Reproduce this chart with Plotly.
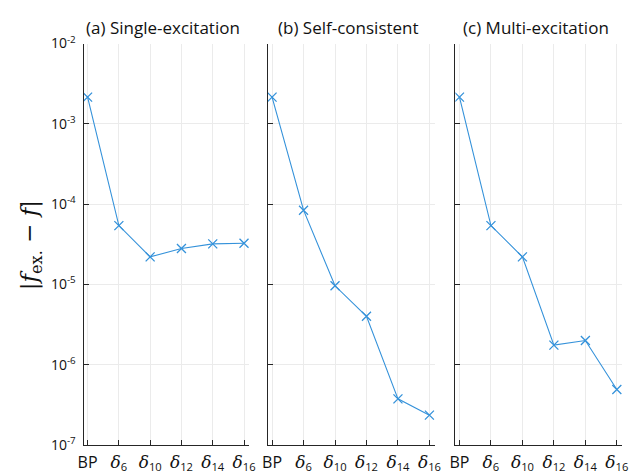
import plotly.graph_objects as go

categories = ["BP", "δ6", "δ10", "δ12", "δ14", "δ16"]
D = "<span style='font-family:DejaVu Serif;font-size:17px'><i>δ</i></span>"
tick_text = ["BP",
             D + "<sub>6</sub>",
             D + "<sub>10</sub>",
             D + "<sub>12</sub>",
             D + "<sub>14</sub>",
             D + "<sub>16</sub>"]
single_excitation = [2.15e-3, 5.4e-5, 2.2e-5, 2.8e-5, 3.2e-5, 3.25e-5]
self_consistent = [2.15e-3, 8.4e-5, 9.6e-6, 4.0e-6, 3.75e-7, 2.35e-7]
multi_excitation = [2.15e-3, 5.4e-5, 2.2e-5, 1.75e-6, 2.0e-6, 4.9e-7]
titles = ["(a) Single-excitation", "(b) Self-consistent", "(c) Multi-excitation"]
y_tick_vals = [1e-7, 1e-6, 1e-5, 1e-4, 1e-3, 1e-2]
y_tick_text = ["10<sup>-7</sup>", "10<sup>-6</sup>", "10<sup>-5</sup>",
               "10<sup>-4</sup>", "10<sup>-3</sup>", "10<sup>-2</sup>"]

series = [single_excitation, self_consistent, multi_excitation]

W, H = 638, 475
x_domains = [(79 / W, 248 / W), (267 / W, 437 / W), (458 / W, 628 / W)]
y_domain = (1 - 453 / H, 1 - 34 / H)
color = "#3592da"
axis_col = "#262626"
grid_col = "#ebebeb"
font_family = "Open Sans"

fig = go.Figure()
for i, vals in enumerate(series):
    sfx = "" if i == 0 else str(i + 1)
    fig.add_trace(go.Scatter(
        x=list(range(len(categories))), y=vals,
        mode="lines+markers",
        line=dict(color=color, width=1.1),
        marker=dict(symbol="x-thin", size=9, line=dict(color=color, width=1.3)),
        xaxis="x" + sfx, yaxis="y" + sfx, showlegend=False,
    ))
    fig.layout["xaxis" + sfx] = dict(
        domain=list(x_domains[i]), anchor="y" + sfx,
        range=[-0.13, 5.17],
        tickmode="array", tickvals=list(range(len(categories))), ticktext=tick_text,
        ticks="inside", ticklen=5, tickcolor=axis_col,
        showline=True, linecolor=axis_col, linewidth=1,
        showgrid=True, gridcolor=grid_col, gridwidth=1,
        zeroline=False, ticklabelstandoff=3,
        tickfont=dict(family=font_family, size=16, color="#111111"),
    )
    fig.layout["yaxis" + sfx] = dict(
        domain=list(y_domain), anchor="x" + sfx,
        type="log", range=[-7, -2],
        tickmode="array", tickvals=y_tick_vals, ticktext=y_tick_text,
        showticklabels=(i == 0),
        ticks="inside", ticklen=5, tickcolor=axis_col,
        showline=True, linecolor=axis_col, linewidth=1,
        showgrid=True, gridcolor=grid_col, gridwidth=1,
        zeroline=False, ticklabelstandoff=4,
        tickfont=dict(family=font_family, size=14, color="#111111"),
    )
    fig.add_annotation(
        text=titles[i], xref="paper", yref="paper",
        x=(x_domains[i][0] + x_domains[i][1]) / 2 - 3 / W, y=1 - 17 / H,
        xanchor="center", yanchor="middle", showarrow=False,
        font=dict(family=font_family, size=17, color="#111111"),
    )

fig.add_annotation(
    text="|<i>f</i><sub>ex.</sub> − <i>f</i>|", xref="paper", yref="paper",
    x=25 / W, y=1 - 245 / H, textangle=-90,
    xanchor="center", yanchor="middle", showarrow=False,
    font=dict(family="DejaVu Serif", size=23, color="#111111"),
)

fig.update_layout(
    width=W, height=H,
    margin=dict(l=0, r=0, t=0, b=0),
    paper_bgcolor="white", plot_bgcolor="white",
)

fig.write_html("out.html")
